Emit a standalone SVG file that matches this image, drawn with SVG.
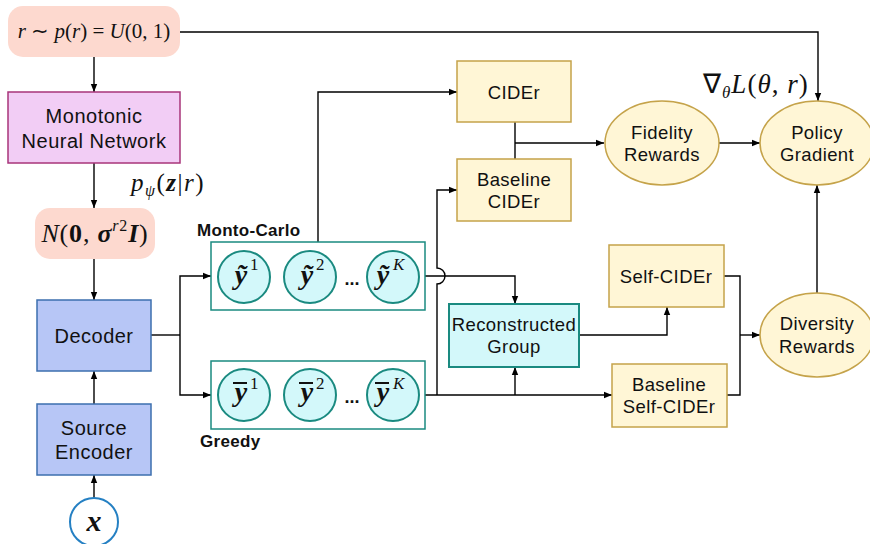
<svg xmlns="http://www.w3.org/2000/svg" width="870" height="544" viewBox="0 0 870 544">
<defs>
<marker id="ah" viewBox="0 0 10 10" refX="10" refY="5" markerWidth="8" markerHeight="8" markerUnits="userSpaceOnUse" orient="auto">
<path d="M0,1 L10,5 L0,9 z" fill="#000"/>
</marker>
<style>
.lbl{font-family:"Liberation Sans",Arial,sans-serif;font-size:18.5px;fill:#111;text-anchor:middle;letter-spacing:0.4px}
.lbl2{font-family:"Liberation Sans",Arial,sans-serif;font-size:20px;fill:#111;text-anchor:middle;letter-spacing:0.5px}
.bold{font-family:"Liberation Sans",Arial,sans-serif;font-size:17px;font-weight:bold;fill:#111;letter-spacing:0.3px}
.math{font-family:"Liberation Serif","Times New Roman",serif;fill:#111}
.it{font-style:italic}
.bi{font-style:italic;font-weight:bold}
.yel{fill:#fff6d6;stroke:#c5a34a;stroke-width:1.5}
.tealbox{fill:#fff;stroke:#1a8a80;stroke-width:1.5}
.tealc{fill:#d3f8fa;stroke:#1a8a80;stroke-width:2}
.blue{fill:#b7c6f6;stroke:#3d6fae;stroke-width:1.5}
.pill{fill:#fdd9cf}
.conn path{fill:none;stroke:#000;stroke-width:1.4}
.yv{font-family:"Liberation Serif","Times New Roman",serif;font-size:28px;font-style:italic;font-weight:bold;fill:#111;text-anchor:middle}
.sup{font-family:"Liberation Serif","Times New Roman",serif;font-size:17px;fill:#111}
.dots{font-family:"Liberation Sans",Arial,sans-serif;font-size:18px;font-weight:bold;fill:#111;text-anchor:middle}
</style>
</defs>

<g id="connectors" class="conn">
<path d="M180,32 H818 V101" marker-end="url(#ah)"/>
<path d="M94,57 V92" marker-end="url(#ah)"/>
<path d="M94,163 V208" marker-end="url(#ah)"/>
<path d="M94,259 V300" marker-end="url(#ah)"/>
<path d="M94,404 V371" marker-end="url(#ah)"/>
<path d="M94,498 V475" marker-end="url(#ah)"/>
<path d="M151,335 H180"/>
<path d="M180,335 V276 H211" marker-end="url(#ah)"/>
<path d="M180,335 V395 H211" marker-end="url(#ah)"/>
<path d="M318,242 V92 H457" marker-end="url(#ah)"/>
<path d="M425,276 H515 V304" marker-end="url(#ah)"/>
<path d="M425,395 H612" marker-end="url(#ah)"/>
<path d="M515,395 V367" marker-end="url(#ah)"/>
<path d="M437,395 V284 A8,8 0 0 0 437,268 V190 H457" marker-end="url(#ah)"/>
<path d="M515,122 V159"/>
<path d="M515,143 H604" marker-end="url(#ah)"/>
<path d="M719,143 H760" marker-end="url(#ah)"/>
<path d="M579,335 H667 V307" marker-end="url(#ah)"/>
<path d="M724,276 H740 V395 H727"/>
<path d="M740,335 H760" marker-end="url(#ah)"/>
<path d="M817,293 V185" marker-end="url(#ah)"/>
</g>

<g id="prior">
<rect class="pill" x="8" y="6" width="172" height="51" rx="15"/>
<text class="math" x="94" y="38" font-size="21" text-anchor="middle"><tspan class="it">r</tspan> ∼ <tspan class="it">p</tspan>(<tspan class="it">r</tspan>) = <tspan class="it">U</tspan>(0, 1)</text>
</g>

<g id="mnn">
<rect x="8" y="92" width="172" height="71" fill="#f2cdf5" stroke="#a8347a" stroke-width="1.5"/>
<text class="lbl2" x="94" y="123">Monotonic</text>
<text class="lbl2" x="94" y="148">Neural Network</text>
</g>

<text class="math" x="131" y="191" font-size="25" letter-spacing="1.5"><tspan class="it">p</tspan><tspan class="it" font-size="16" dy="5">ψ</tspan><tspan dy="-5">(</tspan><tspan class="bi">z</tspan>|<tspan class="it">r</tspan>)</text>

<g id="gauss">
<rect class="pill" x="35" y="208" width="120" height="51" rx="15"/>
<text class="math" x="95" y="242" font-size="26" text-anchor="middle" letter-spacing="0.8"><tspan class="it">N</tspan>(<tspan font-weight="bold">0</tspan>, <tspan class="bi">σ</tspan><tspan class="it" font-size="16" dy="-11">r</tspan><tspan font-size="16">2</tspan><tspan class="bi" dy="11">I</tspan>)</text>
</g>

<g id="decoder">
<rect class="blue" x="37" y="300" width="114" height="71"/>
<text class="lbl2" x="94" y="343">Decoder</text>
</g>

<g id="encoder">
<rect class="blue" x="37" y="404" width="114" height="71"/>
<text class="lbl2" x="94" y="435">Source</text>
<text class="lbl2" x="94" y="459">Encoder</text>
</g>

<g id="x">
<circle cx="94" cy="522" r="24" fill="#fff" stroke="#2580c3" stroke-width="2"/>
<text class="math bi" x="94" y="531" font-size="30" text-anchor="middle">x</text>
</g>

<g id="montecarlo">
<text class="bold" x="197" y="236">Monto-Carlo</text>
<rect class="tealbox" x="211" y="242" width="214" height="68"/>
<circle class="tealc" cx="244" cy="277" r="26"/>
<text class="yv" x="241" y="284">ỹ</text>
<text class="sup" x="250" y="270">1</text>
<circle class="tealc" cx="310" cy="277" r="26"/>
<text class="yv" x="307" y="284">ỹ</text>
<text class="sup" x="316" y="270">2</text>
<text class="dots" x="352" y="285">...</text>
<circle class="tealc" cx="393" cy="277" r="26"/>
<text class="yv" x="383" y="284">ỹ</text>
<text class="sup it" x="393" y="270">K</text>
</g>

<g id="greedy">
<rect class="tealbox" x="211" y="361" width="214" height="68"/>
<circle class="tealc" cx="244" cy="395" r="26"/>
<line x1="233" y1="383" x2="247" y2="383" stroke="#111" stroke-width="2"/>
<text class="yv" x="241" y="401">y</text>
<text class="sup" x="250" y="389">1</text>
<circle class="tealc" cx="310" cy="395" r="26"/>
<line x1="299" y1="383" x2="313" y2="383" stroke="#111" stroke-width="2"/>
<text class="yv" x="307" y="401">y</text>
<text class="sup" x="316" y="389">2</text>
<text class="dots" x="352" y="403">...</text>
<circle class="tealc" cx="393" cy="395" r="26"/>
<line x1="375" y1="383" x2="389" y2="383" stroke="#111" stroke-width="2"/>
<text class="yv" x="383" y="401">y</text>
<text class="sup it" x="393" y="389">K</text>
<text class="bold" x="200" y="447">Greedy</text>
</g>

<g id="cider">
<rect class="yel" x="457" y="61" width="114" height="61"/>
<text class="lbl" x="514" y="99">CIDEr</text>
</g>

<g id="baseline-cider">
<rect class="yel" x="457" y="159" width="114" height="62"/>
<text class="lbl" x="514" y="186">Baseline</text>
<text class="lbl" x="514" y="208">CIDEr</text>
</g>

<g id="fidelity">
<ellipse class="yel" cx="662" cy="143" rx="57" ry="42"/>
<text class="lbl" x="662" y="139">Fidelity</text>
<text class="lbl" x="662" y="161">Rewards</text>
</g>

<g id="policy">
<ellipse class="yel" cx="817" cy="143" rx="57" ry="42"/>
<text class="lbl" x="817" y="139">Policy</text>
<text class="lbl" x="817" y="161">Gradient</text>
</g>

<text class="math" x="703" y="93" font-size="27" letter-spacing="1">∇<tspan class="it" font-size="17" dy="5">θ</tspan><tspan class="it" dy="-5">L</tspan>(<tspan class="it">θ</tspan>, <tspan class="it">r</tspan>)</text>

<g id="reconstructed">
<rect x="449" y="304" width="130" height="63" fill="#d3f8fa" stroke="#1a8a80" stroke-width="2"/>
<text class="lbl" x="514" y="331" letter-spacing="0">Reconstructed</text>
<text class="lbl" x="514" y="353">Group</text>
</g>

<g id="self-cider">
<rect class="yel" x="609" y="245" width="115" height="62"/>
<text class="lbl" x="666" y="283">Self-CIDEr</text>
</g>

<g id="baseline-self-cider">
<rect class="yel" x="612" y="364" width="115" height="63"/>
<text class="lbl" x="669" y="391">Baseline</text>
<text class="lbl" x="669" y="413">Self-CIDEr</text>
</g>

<g id="diversity">
<ellipse class="yel" cx="817" cy="335" rx="57" ry="42"/>
<text class="lbl" x="817" y="330">Diversity</text>
<text class="lbl" x="817" y="353">Rewards</text>
</g>
</svg>
